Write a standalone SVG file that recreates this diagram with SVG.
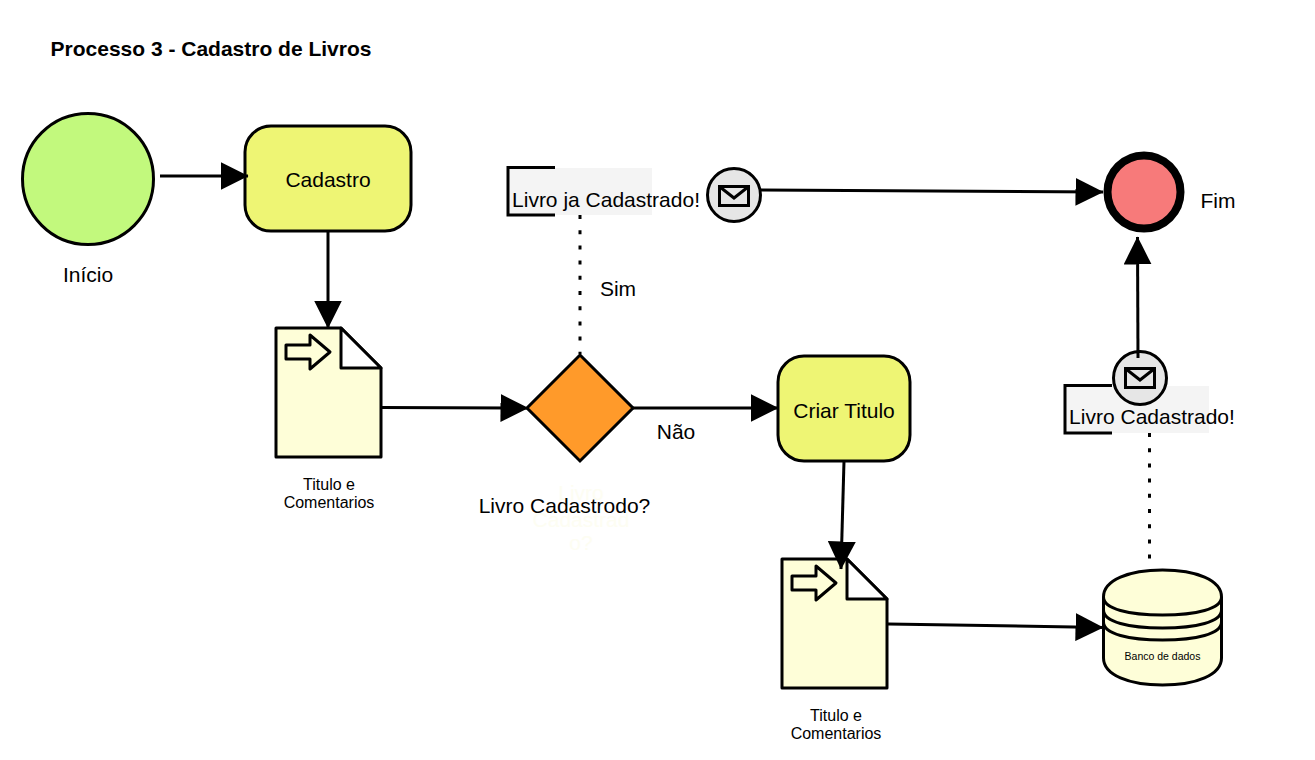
<svg xmlns="http://www.w3.org/2000/svg" width="1315" height="760" viewBox="0 0 1315 760">
<style>
text{font-family:"Liberation Sans",Arial,sans-serif;fill:#000;text-anchor:middle}
.t20{font-size:21px}
.t16{font-size:16px}
.t10{font-size:10.500px}
.s{stroke:#000;stroke-width:3;stroke-linejoin:round;stroke-linecap:round}
.c{fill:none;stroke:#000;stroke-width:3}
.d{fill:none;stroke:#000;stroke-width:3;stroke-dasharray:4 11.200}
.task{fill:#eef574;stroke:#000;stroke-width:3}
.doc{fill:#fefed8}
.ann{fill:#f4f4f4}
.ev{fill:#e6e6e6}
.mail{fill:none;stroke:#000;stroke-width:3;stroke-linejoin:miter}
.faint{fill:#fdfdf2}
</style>
<defs>
<marker id="arrow" viewBox="0 0 28 28" refX="27.500" refY="14" markerWidth="28" markerHeight="28" markerUnits="userSpaceOnUse" orient="auto"><path d="M0 0L28 14L0 28Z" fill="#000"/></marker>
<g id="docIcon">
<path class="s doc" d="M0 0H65L105 40V129H0Z"/>
<path class="s" fill="#fff" d="M65 0L105 40H65Z"/>
<path class="s" fill="#fefed8" d="M10 17H34V7L54 24L34 41V31H10Z"/>
</g>
<g id="mailIcon">
<rect class="mail" x="-14.500" y="-9.500" width="29" height="19"/>
<path class="mail" d="M-14 -9L0 2L14 -9"/>
</g>
</defs>
<text x="211" y="56" font-size="21" font-weight="bold">Processo 3 - Cadastro de Livros</text>
<g id="inicio">
<circle cx="88" cy="179" r="65.500" fill="#c2f97d" stroke="#000" stroke-width="3"/>
<text class="t20" x="88" y="282">Início</text>
</g>
<g id="cadastro">
<rect class="task" x="245" y="126" width="166" height="105" rx="26"/>
<text class="t20" x="328" y="187">Cadastro</text>
</g>
<g id="doc1">
<use href="#docIcon" x="276" y="328"/>
<text class="t16" x="329" y="490">Titulo e</text>
<text class="t16" x="329" y="508">Comentarios</text>
</g>
<g id="gateway">
<path d="M580 355L633 408L580 461L527 408Z" fill="#ff9a2a" stroke="#000" stroke-width="3"/>
<text x="581" y="500" class="t20 faint" style="fill:#fdfdf2">Livro</text>
<text x="581" y="527" class="t20 faint" style="fill:#fdfdf2">Cadastrad</text>
<text x="581" y="550" class="t20 faint" style="fill:#fdfdf2">o?</text>
<text class="t20" x="564.500" y="513">Livro Cadastrodo?</text>
</g>
<text id="label-sim" class="t20" x="618" y="296">Sim</text>
<text id="label-nao" class="t20" x="676" y="439">Não</text>
<g id="msg-ja-cadastrado">
<rect class="ann" x="507" y="168" width="145" height="47"/>
<path class="c" d="M555 167.500H508V215H555"/>
<text class="t20" x="606" y="207">Livro ja Cadastrado!</text>
<circle class="ev" cx="734" cy="195" r="26.500" stroke="#000" stroke-width="3"/>
<use href="#mailIcon" x="734" y="196"/>
</g>
<g id="fim">
<circle cx="1144" cy="192" r="36.500" fill="#f77a7a" stroke="#000" stroke-width="8"/>
<text class="t20" x="1218" y="208">Fim</text>
</g>
<g id="criar-titulo">
<rect class="task" x="778" y="356" width="132" height="105" rx="26"/>
<text class="t20" x="844" y="418">Criar Titulo</text>
</g>
<g id="doc2">
<use href="#docIcon" x="782" y="559"/>
<text class="t16" x="836" y="721">Titulo e</text>
<text class="t16" x="836" y="739">Comentarios</text>
</g>
<g id="msg-cadastrado">
<rect class="ann" x="1065" y="386" width="144" height="47"/>
<path class="c" d="M1112 385.500H1065V433H1112"/>
<text class="t20" x="1152" y="424">Livro Cadastrado!</text>
<circle class="ev" cx="1140" cy="378" r="26.500" stroke="#000" stroke-width="3"/>
<use href="#mailIcon" x="1140" y="378"/>
</g>
<g id="banco">
<path class="s" fill="#fefed8" d="M1103.500 597C1103.500 580 1129 570 1162.500 570C1196 570 1221.500 580 1221.500 597V658C1221.500 675 1196 685 1162.500 685C1129 685 1103.500 675 1103.500 658Z"/>
<path class="c" d="M1103.500 597C1103.500 609 1129 615 1162.500 615C1196 615 1221.500 609 1221.500 597"/>
<path class="c" d="M1103.500 610C1103.500 622 1129 628 1162.500 628C1196 628 1221.500 622 1221.500 610"/>
<path class="c" d="M1103.500 622C1103.500 634 1129 640 1162.500 640C1196 640 1221.500 634 1221.500 622"/>
<text class="t10" x="1162.500" y="660">Banco de dados</text>
</g>
<g id="connectors">
<path class="c" d="M160 176H248" marker-end="url(#arrow)"/>
<path class="c" d="M328 231V328" marker-end="url(#arrow)"/>
<path class="c" d="M381 407.500L528 408" marker-end="url(#arrow)"/>
<path class="c" d="M633 408H778" marker-end="url(#arrow)"/>
<path class="c" d="M844 461L841 569" marker-end="url(#arrow)"/>
<path class="c" d="M888 624L1103 627.500" marker-end="url(#arrow)"/>
<path class="c" d="M1138 358L1137.500 237" marker-end="url(#arrow)"/>
<path class="c" d="M761 190L1103 192" marker-end="url(#arrow)"/>
<path class="d" d="M580 215V354"/>
<path class="d" d="M1149.500 433V562"/>
</g>
</svg>
